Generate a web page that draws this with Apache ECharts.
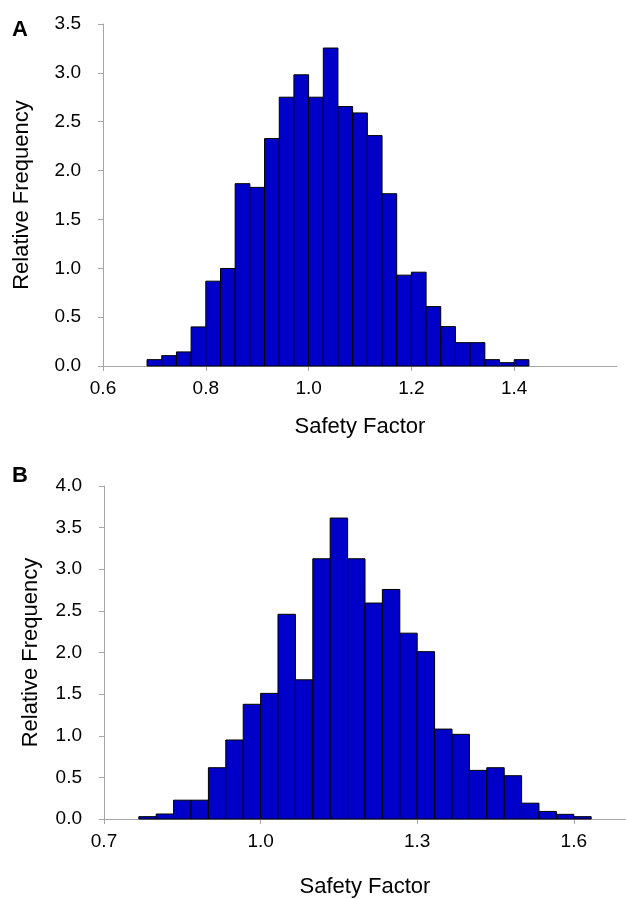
<!DOCTYPE html>
<html>
<head>
<meta charset="utf-8">
<script src="https://cdn.jsdelivr.net/npm/echarts@6/dist/echarts.min.js"></script>
<style>
html,body{margin:0;padding:0;background:#fff;}
#chart{width:626px;height:899px;}
</style>
</head>
<body>
<div id="chart"></div>
<script>
// Panel A: bin edges (Safety Factor) and relative frequencies
var edgesA = [0.6857, 0.7143, 0.7429, 0.7714, 0.8, 0.8286, 0.8571, 0.8857, 0.9143, 0.9429, 0.9714, 1.0, 1.0286, 1.0571, 1.0857, 1.1143, 1.1429, 1.1714, 1.2, 1.2286, 1.2571, 1.2857, 1.3143, 1.3429, 1.3714, 1.4, 1.4286];
var freqA = [0.065, 0.106, 0.144, 0.40, 0.868, 0.998, 1.866, 1.828, 2.327, 2.751, 2.98, 2.751, 3.254, 2.655, 2.59, 2.358, 1.763, 0.93, 0.96, 0.608, 0.403, 0.239, 0.239, 0.065, 0.034, 0.065];

// Panel B
var edgesB = [0.7667, 0.8, 0.8333, 0.8667, 0.9, 0.9333, 0.9667, 1.0, 1.0333, 1.0667, 1.1, 1.1333, 1.1667, 1.2, 1.2333, 1.2667, 1.3, 1.3333, 1.3667, 1.4, 1.4333, 1.4667, 1.5, 1.5333, 1.5667, 1.6, 1.6333];
var freqB = [0.028, 0.06, 0.226, 0.226, 0.616, 0.949, 1.378, 1.509, 2.459, 1.672, 3.126, 3.615, 3.126, 2.594, 2.757, 2.232, 2.01, 1.08, 1.017, 0.584, 0.616, 0.52, 0.19, 0.091, 0.056, 0.028];

var xTicksA = {min: 0.6, max: 1.6, interval: 0.2};
var xTicksB = {min: 0.7, max: 1.7, interval: 0.3};
var yTicksA = {min: 0, max: 3.5, interval: 0.5};
var yTicksB = {min: 0, max: 4.0, interval: 0.5};

var xName = 'Safety Factor';
var yName = 'Relative Frequency';
var panelLabels = ['A', 'B'];

var FONT = '"Liberation Sans", Arial, sans-serif';
var BAR = '#0000c8';
var AXIS = '#a6a6a6';

function histData(edges, freq) {
  return freq.map(function (h, i) { return [edges[i], edges[i + 1], h]; });
}

function renderBar(params, api) {
  var x0 = api.value(0), x1 = api.value(1), h = api.value(2);
  var p0 = api.coord([x0, h]);
  var p1 = api.coord([x1, 0]);
  return {
    type: 'rect',
    shape: {x: p0[0], y: p0[1], width: p1[0] - p0[0], height: p1[1] - p0[1]},
    style: {fill: BAR, stroke: '#000', lineWidth: 1}
  };
}

function xAxisCfg(idx, t, gap) {
  return {
    type: 'value', gridIndex: idx, min: t.min, max: t.max, interval: t.interval,
    name: xName, nameLocation: 'middle', nameGap: gap,
    nameTextStyle: {fontFamily: FONT, fontSize: 22, color: '#000'},
    axisLine: {show: true, onZero: false, lineStyle: {color: AXIS, width: 1}},
    axisTick: {show: true, length: 5, lineStyle: {color: AXIS}},
    axisLabel: {fontFamily: FONT, fontSize: 19, color: '#000', margin: 13, showMaxLabel: false,
      formatter: function (v) { return v.toFixed(1); }},
    splitLine: {show: false}
  };
}

function yAxisCfg(idx, t, gap) {
  return {
    type: 'value', gridIndex: idx, min: t.min, max: t.max, interval: t.interval,
    name: yName, nameLocation: 'middle', nameGap: gap,
    nameTextStyle: {fontFamily: FONT, fontSize: 22, color: '#000'},
    axisLine: {show: true, lineStyle: {color: AXIS, width: 1}},
    axisTick: {show: true, length: 5, lineStyle: {color: AXIS}},
    axisLabel: {fontFamily: FONT, fontSize: 19, color: '#000', margin: 22,
      formatter: function (v) { return v.toFixed(1); }},
    splitLine: {show: false}
  };
}

var chart = echarts.init(document.getElementById('chart'), null, {renderer: 'canvas'});
chart.setOption({
  backgroundColor: '#fff',
  animation: false,
  grid: [
    {left: 103, top: 24, width: 514, height: 342},
    {left: 104, top: 486, width: 525, height: 336}
  ],
  xAxis: [xAxisCfg(0, xTicksA, 50), xAxisCfg(1, xTicksB, 57)],
  yAxis: [yAxisCfg(0, yTicksA, 70), yAxisCfg(1, yTicksB, 62)],
  graphic: [
    {type: 'text', left: 12, top: 19, style: {text: panelLabels[0], font: 'bold 22px ' + FONT, fill: '#000'}},
    {type: 'text', left: 12, top: 465, style: {text: panelLabels[1], font: 'bold 22px ' + FONT, fill: '#000'}}
  ],
  series: [
    {type: 'custom', xAxisIndex: 0, yAxisIndex: 0, data: histData(edgesA, freqA),
      encode: {x: [0, 1], y: 2}, renderItem: renderBar},
    {type: 'custom', xAxisIndex: 1, yAxisIndex: 1, data: histData(edgesB, freqB),
      encode: {x: [0, 1], y: 2}, renderItem: renderBar}
  ]
});
</script>
</body>
</html>
